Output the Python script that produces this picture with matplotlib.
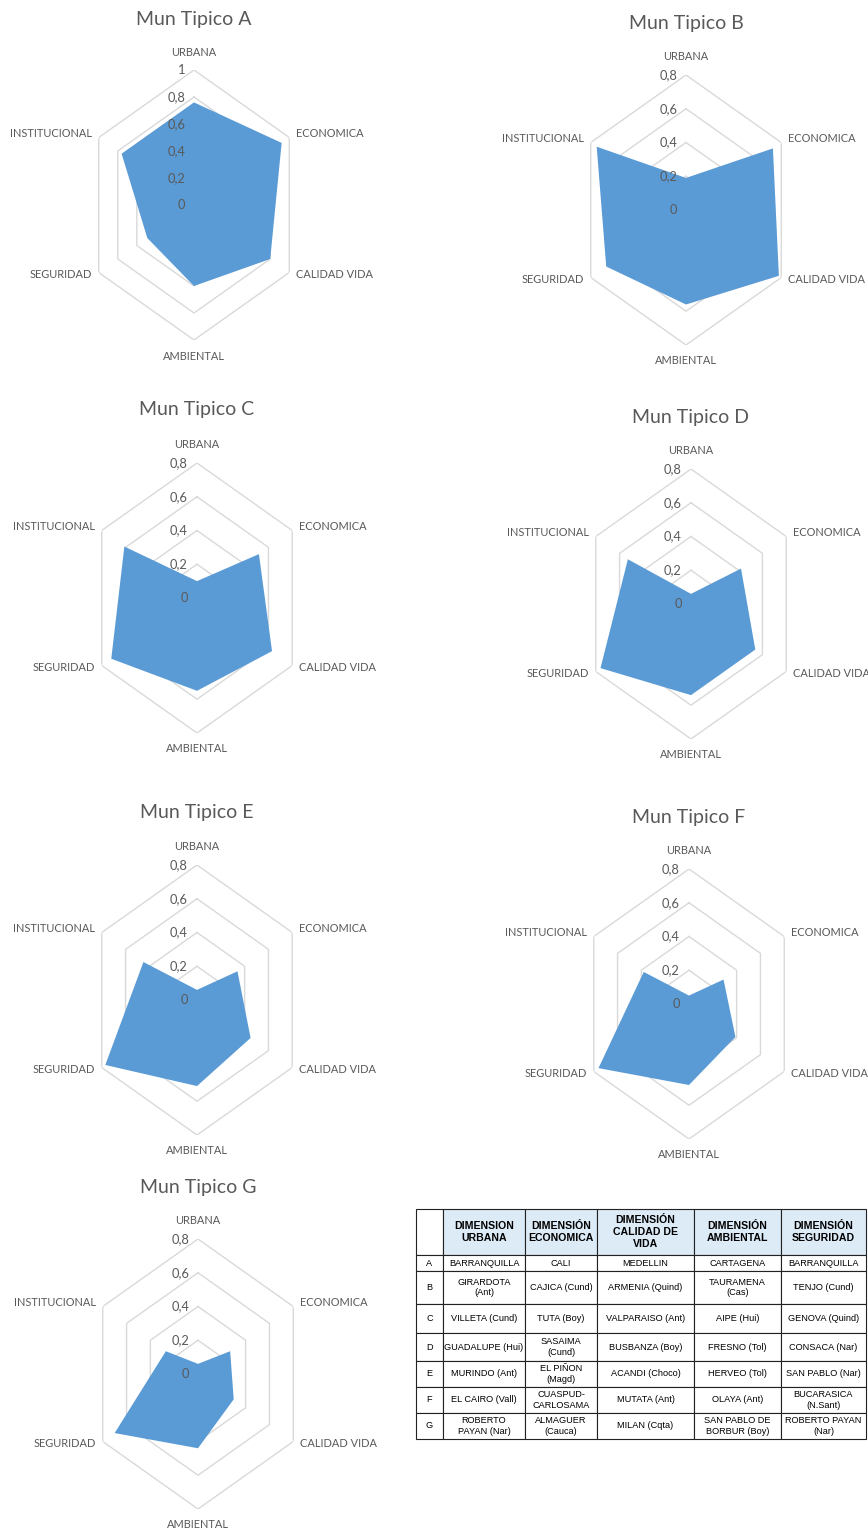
import numpy as np
import matplotlib
matplotlib.use("Agg")
import matplotlib.pyplot as plt

# Radar data
categories = ["URBANA", "ECONOMICA", "CALIDAD VIDA", "AMBIENTAL", "SEGURIDAD", "INSTITUCIONAL"]
mun_a = [0.76, 0.92, 0.80, 0.60, 0.49, 0.76]
mun_b = [0.19, 0.73, 0.78, 0.56, 0.67, 0.75]
mun_c = [0.10, 0.52, 0.63, 0.55, 0.72, 0.61]
mun_d = [0.06, 0.42, 0.54, 0.54, 0.76, 0.53]
mun_e = [0.06, 0.34, 0.45, 0.51, 0.77, 0.45]
mun_f = [0.05, 0.29, 0.39, 0.48, 0.76, 0.38]
mun_g = [0.06, 0.27, 0.30, 0.44, 0.70, 0.27]
titles = ["Mun Tipico A", "Mun Tipico B", "Mun Tipico C", "Mun Tipico D",
          "Mun Tipico E", "Mun Tipico F", "Mun Tipico G"]
ticks_a = [0, 0.2, 0.4, 0.6, 0.8, 1.0]
ticks_rest = [0, 0.2, 0.4, 0.6, 0.8]

# Table data
table_header = ["", "DIMENSION\nURBANA", "DIMENSIÓN\nECONOMICA", "DIMENSIÓN\nCALIDAD DE\nVIDA",
                "DIMENSIÓN\nAMBIENTAL", "DIMENSIÓN\nSEGURIDAD"]
row_labels = ["A", "B", "C", "D", "E", "F", "G"]
col_urbana = ["BARRANQUILLA", "GIRARDOTA\n(Ant)", "VILLETA (Cund)", "GUADALUPE (Hui)",
              "MURINDO (Ant)", "EL CAIRO (Vall)", "ROBERTO\nPAYAN (Nar)"]
col_economica = ["CALI", "CAJICA (Cund)", "TUTA (Boy)", "SASAIMA\n(Cund)",
                 "EL PIÑON\n(Magd)", "CUASPUD-\nCARLOSAMA", "ALMAGUER\n(Cauca)"]
col_calidad = ["MEDELLIN", "ARMENIA (Quind)", "VALPARAISO (Ant)", "BUSBANZA (Boy)",
               "ACANDI (Choco)", "MUTATA (Ant)", "MILAN (Cqta)"]
col_ambiental = ["CARTAGENA", "TAURAMENA\n(Cas)", "AIPE (Hui)", "FRESNO (Tol)",
                 "HERVEO (Tol)", "OLAYA (Ant)", "SAN PABLO DE\nBORBUR (Boy)"]
col_seguridad = ["BARRANQUILLA", "TENJO (Cund)", "GENOVA (Quind)", "CONSACA (Nar)",
                 "SAN PABLO (Nar)", "BUCARASICA\n(N.Sant)", "ROBERTO PAYAN\n(Nar)"]

W, H = 868, 1529
fig = plt.figure(figsize=(W / 100, H / 100), dpi=100)
fig.patch.set_facecolor("white")

FILL = "#5B9BD5"
GRID = "#D9D9D9"
TXT = "#595959"
LABEL_FONT = "Lato"

# layout: centre of each radar and title position, in pixels
centres = [(194, 205), (686, 210), (197, 598), (691, 604), (197, 1000), (689, 1004), (198, 1374)]
title_y = [20, 24, 410, 417, 812, 817, 1187]
RX, RY = 110, 135  # half width / half height of the outer ring, pixels

series = [mun_a, mun_b, mun_c, mun_d, mun_e, mun_f, mun_g]
n = len(categories)
theta = np.linspace(0, 2 * np.pi, n, endpoint=False)
theta_c = np.append(theta, theta[0])

label_off = {
    "URBANA": (0, 18, "center"),
    "ECONOMICA": (7, 4, "left"),
    "CALIDAD VIDA": (7, -2, "left"),
    "AMBIENTAL": (0, -16, "center"),
    "SEGURIDAD": (-7, -2, "right"),
    "INSTITUCIONAL": (-7, 4, "right"),
}

for i, vals in enumerate(series):
    cx, cy = centres[i]
    ticks = ticks_a if i == 0 else ticks_rest
    rmax = ticks[-1]
    ax = fig.add_axes([(cx - RX) / W, 1 - (cy + RY) / H, 2 * RX / W, 2 * RY / H],
                      projection="polar")
    ax.set_aspect("auto")
    ax.set_theta_offset(np.pi / 2)
    ax.set_theta_direction(-1)
    ax.set_ylim(0, rmax)
    ax.grid(False)
    ax.spines["polar"].set_visible(False)
    ax.set_xticks([])
    ax.set_yticks([])
    ax.patch.set_alpha(0)

    # hexagonal rings
    for t in ticks[1:]:
        ax.plot(theta_c, [t] * (n + 1), color=GRID, lw=1.0, zorder=1)

    v = np.append(vals, vals[0])
    ax.fill(theta_c, v, color=FILL, lw=0, zorder=2)

    # value labels along the URBANA axis
    for t in ticks:
        lab = ("%g" % t).replace(".", ",")
        ax.annotate(lab, xy=(0, t), xytext=(-9, 0), textcoords="offset pixels",
                    ha="right", va="center", fontsize=9.3, color=TXT,
                    family=LABEL_FONT, zorder=3, annotation_clip=False)

    # category labels
    for th, cat in zip(theta, categories):
        dx, dy, ha = label_off[cat]
        ax.annotate(cat, xy=(th, rmax), xytext=(dx, dy), textcoords="offset pixels",
                    ha=ha, va="center", fontsize=7.9, color=TXT,
                    family=LABEL_FONT, annotation_clip=False)

    fig.text(cx / W, 1 - title_y[i] / H, titles[i], ha="center", va="center",
             fontsize=14, color=TXT, family=LABEL_FONT)

# table
t_left, t_right, t_top, t_bot = 416, 866, 1209, 1439
tax = fig.add_axes([t_left / W, 1 - t_bot / H, (t_right - t_left) / W, (t_bot - t_top) / H])
tax.axis("off")
cell_rows = [[row_labels[k], col_urbana[k], col_economica[k], col_calidad[k],
              col_ambiental[k], col_seguridad[k]] for k in range(len(row_labels))]
col_w = [27, 82, 72, 97, 87, 85]
row_h = [46, 16, 33, 29, 28, 26, 26, 26]
tbl = tax.table(cellText=cell_rows, colLabels=table_header, colWidths=col_w,
                cellLoc="center", bbox=[0, 0, 1, 1])
tbl.auto_set_font_size(False)
tbl.set_fontsize(6.6)
for (r, c), cell in tbl.get_celld().items():
    cell.set_height(row_h[r])
    cell.set_linewidth(0.8)
    cell.set_edgecolor("#222222")
    cell.PAD = 0.02
    txt = cell.get_text()
    txt.set_fontfamily("Liberation Sans")
    txt.set_linespacing(1.2)
    if r == 0:
        if c > 0:
            cell.set_facecolor("#DDEBF7")
        txt.set_fontweight("bold")
        txt.set_fontsize(7.6)

fig.savefig("out.png", dpi=100, facecolor="white")
